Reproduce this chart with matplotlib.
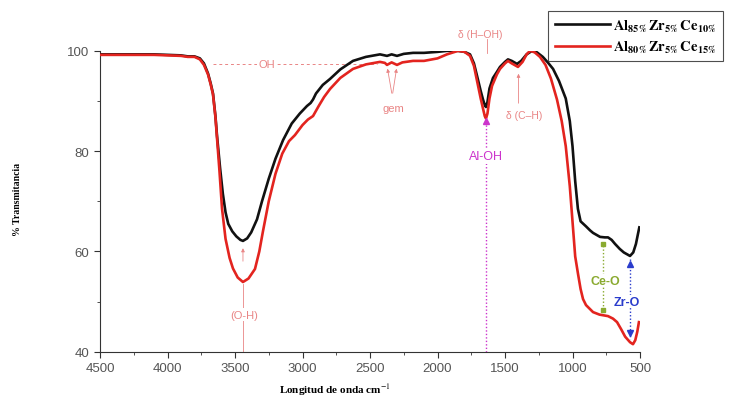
import matplotlib
matplotlib.use("Agg")
import matplotlib.pyplot as plt

plt.rcParams['font.family'] = ['Liberation Sans', 'DejaVu Sans']
plt.rcParams['mathtext.fontset'] = 'stix'

# FTIR spectra (wavenumber cm-1, % transmittance)
wn_black = [4500, 4300, 4100, 3900, 3850, 3800, 3760, 3730, 3700, 3680, 3663, 3645, 3633,
            3610, 3590, 3570, 3550, 3520, 3490, 3460, 3441, 3410, 3380, 3337, 3300, 3250,
            3200, 3144, 3080, 3020, 2967, 2940, 2922, 2900, 2850, 2796, 2720, 2626, 2530,
            2426, 2374, 2340, 2300, 2250, 2181, 2100, 2000, 1930, 1848, 1800, 1759, 1730,
            1707, 1680, 1663, 1650, 1641, 1630, 1615, 1589, 1560, 1537, 1500, 1478, 1450,
            1411, 1380, 1340, 1300, 1263, 1220, 1180, 1144, 1100, 1050, 1020, 1000, 980,
            960, 940, 900, 870, 848, 796, 760, 737, 710, 685, 650, 620, 574, 550, 530, 515, 505]
tr_black = [99.3, 99.3, 99.3, 99.1, 98.9, 98.9, 98.5, 97.5, 95.5, 93.5, 91.5, 87, 83,
            76.5, 71.5, 67.8, 65.5, 64, 63, 62.3, 62.1, 62.6, 63.8, 66.4, 70, 74.5,
            78.5, 82.2, 85.5, 87.5, 89, 89.6, 90.3, 91.5, 93.2, 94.4, 96.3, 98.0, 98.8,
            99.3, 99.0, 99.3, 99.0, 99.4, 99.6, 99.6, 99.8, 100, 100, 99.8, 99.3, 97.5,
            95, 92, 90.3, 89.2, 88.8, 89.8, 92.5, 94.6, 95.8, 96.8, 97.8, 98.3, 98,
            97.4, 98, 99.3, 100, 99.7, 98.8, 97.6, 96.4, 94, 90.5, 86, 81, 74,
            68.5, 66, 65, 64.2, 63.7, 62.9, 62.8, 62.8, 62.3, 61.5, 60.5, 59.8, 59.1, 59.8, 61.5, 63.5, 64.8]

wn_red = [4500, 4300, 4100, 3900, 3850, 3800, 3760, 3730, 3700, 3680, 3663, 3645, 3633,
          3615, 3596, 3570, 3540, 3515, 3480, 3441, 3400, 3352, 3320, 3293, 3250, 3200,
          3150, 3100, 3056, 3000, 2960, 2922, 2880, 2840, 2796, 2720, 2626, 2530, 2426,
          2390, 2374, 2340, 2300, 2260, 2181, 2100, 2000, 1930, 1848, 1800, 1759, 1730,
          1707, 1680, 1663, 1650, 1641, 1630, 1615, 1596, 1560, 1537, 1500, 1478, 1450,
          1404, 1370, 1340, 1315, 1280, 1241, 1200, 1160, 1115, 1080, 1050, 1020, 1000,
          980, 959, 940, 922, 900, 848, 800, 737, 700, 670, 640, 610, 574, 552, 535, 520, 508]
tr_red = [99.2, 99.2, 99.2, 99.0, 98.8, 98.8, 98.3, 97.2, 95.3, 93.3, 91.3, 86.8, 82.5,
          76, 68.5, 62.5, 58.7, 56.6, 54.8, 53.9, 54.6, 56.5, 60, 64, 70, 75.5,
          79.5, 82, 83.2, 85.2, 86.3, 87, 89, 90.8, 92.4, 94.6, 96.4, 97.3, 97.8,
          97.6, 97.2, 97.7, 97.2, 97.7, 98.0, 98, 98.5, 99.3, 100, 99.8, 99, 97,
          94, 90.5, 88.5, 87, 86.5, 87.5, 90.5, 93, 95.3, 96.4, 97.5, 98, 97.5,
          96.8, 97.8, 99.3, 100, 99.7, 98.8, 97.2, 94.5, 90.3, 86, 81, 73, 66,
          59, 55.5, 52.5, 50.5, 49.3, 47.9, 47.4, 47.1, 46.6, 45.9, 44.5, 43, 41.9, 41.5, 42.3, 44, 45.9]

labels = [r'$\mathbf{Al_{85\%}\,Zr_{5\%}\,Ce_{10\%}}$',
          r'$\mathbf{Al_{80\%}\,Zr_{5\%}\,Ce_{15\%}}$']

x_ticks = [4500, 4000, 3500, 3000, 2500, 2000, 1500, 1000, 500]
y_ticks = [40, 60, 80, 100]

pink = '#e98585'
fig = plt.figure(figsize=(7.3, 4.02), dpi=100)
ax = fig.add_axes([100/730, 0.1226, 540/730, 0.7484])

ax.plot(wn_black, tr_black, color='#111111', lw=1.9, label=labels[0], zorder=4)
ax.plot(wn_red, tr_red, color='#e3241f', lw=1.9, label=labels[1], zorder=5)

ax.set_xlim(4500, 500)
ax.set_ylim(40, 100)
ax.set_xticks(x_ticks)
ax.set_yticks(y_ticks)
ax.set_xticks(range(4250, 500, -500), minor=True)
ax.set_yticks([50, 70, 90], minor=True)
for s in ['top', 'right']:
    ax.spines[s].set_visible(False)
for s in ['left', 'bottom']:
    ax.spines[s].set_color('#333333')
ax.tick_params(which='major', direction='out', length=4, color='#333333',
               labelsize=9.5, labelcolor='#555555')
ax.tick_params(which='minor', direction='out', length=2.5, color='#333333')

# annotations
ax.plot([3660, 2450], [97.4, 97.4], color=pink, lw=0.7, ls=(0, (3, 3)), zorder=2)
ax.text(3263, 97.3, 'OH', color=pink, fontsize=8, ha='center', va='center',
        bbox=dict(fc='white', ec='none', pad=1), zorder=3)

ax.annotate('', xy=(2374, 97.0), xytext=(2335, 91), zorder=6,
            arrowprops=dict(arrowstyle='-|>', color=pink, lw=0.6, mutation_scale=5))
ax.annotate('', xy=(2300, 97.0), xytext=(2335, 91), zorder=6,
            arrowprops=dict(arrowstyle='-|>', color=pink, lw=0.6, mutation_scale=5))
ax.text(2330, 88.6, 'gem', color=pink, fontsize=8, ha='center', va='center')

ax.text(1685, 103.3, 'δ (H–OH)', color=pink, fontsize=7.5, ha='center', va='center',
        clip_on=False)
ax.plot([1633, 1633], [102.3, 99.5], color=pink, lw=0.6, clip_on=False)

ax.annotate('', xy=(1400, 96.0), xytext=(1400, 89), zorder=6,
            arrowprops=dict(arrowstyle='-|>', color=pink, lw=0.6, mutation_scale=5))
ax.text(1360, 87.3, 'δ (C–H)', color=pink, fontsize=7.5, ha='center', va='center')

ax.plot([1641, 1641], [40, 85.5], color='#cc33cc', lw=1, ls=(0, (1, 1.5)), zorder=3)
ax.plot([1641], [86.0], marker='^', color='#cc33cc', ms=4, zorder=6)
ax.text(1641, 79, 'Al-OH', color='#cc33cc', fontsize=9, ha='center', va='center',
        bbox=dict(fc='white', ec='none', pad=1), zorder=4)

ax.plot([3441, 3441], [40, 53.5], color=pink, lw=0.6, zorder=2)
ax.annotate('', xy=(3441, 61.2), xytext=(3441, 57.5), zorder=6,
            arrowprops=dict(arrowstyle='-|>', color=pink, lw=0.6, mutation_scale=5))
ax.text(3430, 47.4, '(O-H)', color=pink, fontsize=8, ha='center', va='center',
        bbox=dict(fc='white', ec='none', pad=1), zorder=3)

ax.plot([774, 774], [61.8, 48.2], color='#8aaa30', lw=1, ls=(0, (1, 1.5)), zorder=6)
ax.plot([774, 774], [61.5, 48.4], ls='none', marker='s', color='#8aaa30', ms=2.5, zorder=6)
ax.text(759, 54.2, 'Ce-O', color='#8aaa30', fontsize=9, fontweight='bold',
        ha='center', va='center', bbox=dict(fc='white', ec='none', pad=0.5), zorder=7)

ax.plot([574, 574], [58.5, 42.5], color='#2a3ccc', lw=1, ls=(0, (1, 1.5)), zorder=6)
ax.plot([574], [57.4], marker='^', color='#2a3ccc', ms=4, zorder=7)
ax.plot([574], [43.8], marker='v', color='#2a3ccc', ms=4, zorder=7)
ax.text(596, 50, 'Zr-O', color='#2a3ccc', fontsize=9, fontweight='bold',
        ha='center', va='center', bbox=dict(fc='white', ec='none', pad=0.5), zorder=7)

fig.text(18/730, 1 - 199/402, '% Transmitancia', rotation=90, fontsize=7,
         fontweight='bold', family='Liberation Serif', ha='center', va='center')
fig.text(335/730, 1 - 390/402, 'Longitud de onda cm$^{-1}$', fontsize=8,
         fontweight='bold', family='Liberation Serif', ha='center', va='center')

leg = fig.legend(loc='upper left', bbox_to_anchor=(548/730, 1 - 12/402), fontsize=10.5,
                 frameon=True, fancybox=False, edgecolor='#222222', handlelength=3.8,
                 borderpad=0.45, labelspacing=0.35, handletextpad=0.2, borderaxespad=0)
leg.get_frame().set_linewidth(0.8)

fig.savefig('out.png', dpi=100)
